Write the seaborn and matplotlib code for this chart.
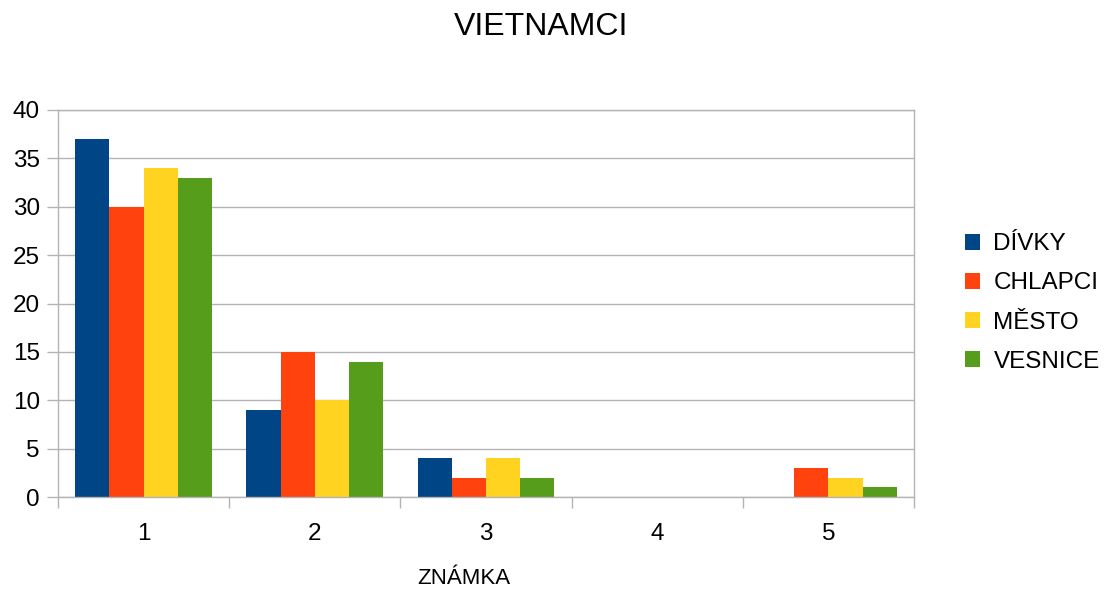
import matplotlib
matplotlib.use("Agg")
import matplotlib.pyplot as plt
import seaborn as sns
import pandas as pd
from matplotlib.ticker import FixedLocator

categories = ["1", "2", "3", "4", "5"]
divky = [37, 9, 4, 0, 0]
chlapci = [30, 15, 2, 0, 3]
mesto = [34, 10, 4, 0, 2]
vesnice = [33, 14, 2, 0, 1]
series_names = ["DÍVKY", "CHLAPCI", "MĚSTO", "VESNICE"]
colors = ["#004586", "#ff420e", "#ffd320", "#579d1c"]

rows = []
for name, vals in zip(series_names, [divky, chlapci, mesto, vesnice]):
    for c, v in zip(categories, vals):
        rows.append({"ZNÁMKA": c, "value": v, "series": name})
df = pd.DataFrame(rows)

sns.set_theme(style="white")
plt.rcParams["font.family"] = ["Liberation Sans", "DejaVu Sans"]
plt.rcParams["text.color"] = "black"

fig = plt.figure(figsize=(11.04, 5.89), dpi=100)
ax = fig.add_axes([58/1104, 1-497/589, (914-58)/1104, (497-110)/589])

sns.barplot(data=df, x="ZNÁMKA", y="value", hue="series", order=categories,
            hue_order=series_names, palette=colors, width=0.8, saturation=1,
            linewidth=0, ax=ax)

ax.set_ylim(0, 40)
ax.set_xlim(-0.5, 4.5)
ax.set_yticks(range(0, 41, 5))
grid_col = "#b3b3b3"
ax.yaxis.grid(True, color=grid_col, linewidth=1)
ax.set_axisbelow(True)
for s in ax.spines.values():
    s.set_color(grid_col)
    s.set_linewidth(1)
ax.tick_params(axis="y", which="major", length=8, color=grid_col, width=1,
               labelsize=17.5, labelcolor="black", pad=5, left=True)
ax.tick_params(axis="x", which="major", length=0, labelsize=17.5,
               labelcolor="black", pad=19)
ax.xaxis.set_minor_locator(FixedLocator([-0.5, 0.5, 1.5, 2.5, 3.5, 4.5]))
ax.tick_params(axis="x", which="minor", length=8, color=grid_col, width=1, bottom=True)
ax.set_ylabel("")
ax.set_xlabel("")

fig.text(541/1104, 1-27/589, "VIETNAMCI", ha="center", va="center", fontsize=23, color="black")
fig.text(464/1104, 1-579/589, "ZNÁMKA", ha="center", va="center", fontsize=16, color="black")

handles, labels = ax.get_legend_handles_labels()
ax.legend(handles, labels, loc="center left", bbox_to_anchor=(965/1104, 1-303/589),
          bbox_transform=fig.transFigure, frameon=False, fontsize=17.5,
          handlelength=0.62, handleheight=0.62, handletextpad=0.55, labelspacing=0.7,
          borderaxespad=0, borderpad=0)

fig.savefig("out.png", dpi=100)
